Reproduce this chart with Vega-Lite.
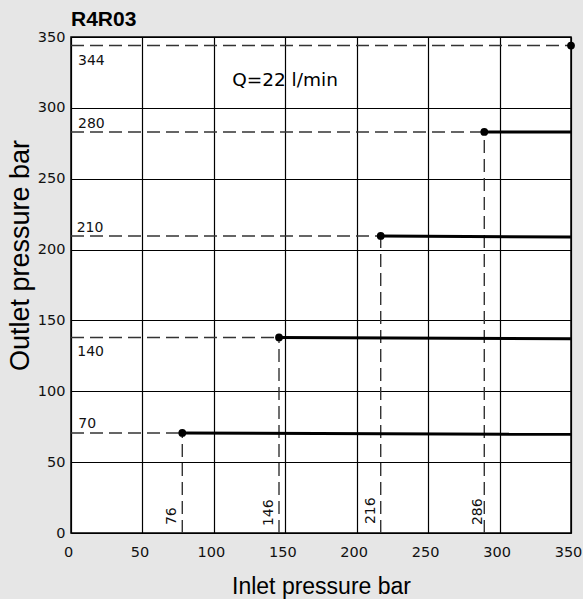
{
  "$schema": "https://vega.github.io/schema/vega-lite/v6.json",
  "width": 500,
  "height": 496,
  "autosize": "none",
  "padding": {"left": 71, "top": 37, "right": 12, "bottom": 66},
  "background": "#e6e6e6",
  "title": {"text": "R4R03", "anchor": "start", "frame": "group", "font": "Liberation Sans", "fontSize": 21, "fontWeight": "bold", "color": "#000", "baseline": "bottom", "offset": 0, "dy": 22},
  "config": {
    "view": {"fill": "white", "stroke": "black", "strokeWidth": 1.5},
    "axis": {"grid": true, "gridColor": "black", "gridWidth": 1.2, "gridOpacity": 1, "ticks": false, "domain": false,
      "labelFont": "DejaVu Sans", "labelFontSize": 14.5, "labelColor": "#111",
      "titleFont": "Liberation Sans", "titleFontWeight": "normal", "titleColor": "#000"}
  },
  "datasets": {
    "steps": [
      {"inlet": 77.9, "outlet": 70.6, "outlet_end": 69.6, "inlet_min": 0, "inlet_max": 350, "outlet_min": 0, "kind": "step"},
      {"inlet": 145.6, "outlet": 138.0, "outlet_end": 137.0, "inlet_min": 0, "inlet_max": 350, "outlet_min": 0, "kind": "step"},
      {"inlet": 216.8, "outlet": 209.6, "outlet_end": 208.8, "inlet_min": 0, "inlet_max": 350, "outlet_min": 0, "kind": "step"},
      {"inlet": 289.3, "outlet": 283.0, "outlet_end": 283.0, "inlet_min": 0, "inlet_max": 350, "outlet_min": 0, "kind": "step"},
      {"inlet": 350, "outlet": 344, "outlet_end": 344, "inlet_min": 0, "inlet_max": 350, "outlet_min": 0, "kind": "max"}
    ],
    "labels": [
      {"x": 4.9, "y": 330.2, "text": "344", "orient": "h"},
      {"x": 4.9, "y": 285.8, "text": "280", "orient": "h"},
      {"x": 4.0, "y": 212.4, "text": "210", "orient": "h"},
      {"x": 4.4, "y": 125.0, "text": "140", "orient": "h"},
      {"x": 5.1, "y": 74.1, "text": "70", "orient": "h"},
      {"x": 73.5, "y": 5.6, "text": "76", "orient": "v"},
      {"x": 141.4, "y": 4.9, "text": "146", "orient": "v"},
      {"x": 212.8, "y": 6.3, "text": "216", "orient": "v"},
      {"x": 287.5, "y": 5.6, "text": "286", "orient": "v"}
    ],
    "note": [{"x": 149.8, "y": 315.4, "text": "Q=22 l/min"}]
  },
  "layer": [
    {
      "data": {"name": "steps"},
      "mark": {"type": "rule", "color": "#333", "strokeWidth": 1.4, "strokeDash": [13, 6]},
      "encoding": {
        "x": {"field": "inlet_min", "type": "quantitative", "scale": {"domain": [0, 350], "nice": false},
          "axis": {"values": [0, 50, 100, 150, 200, 250, 300, 350], "title": "Inlet pressure bar", "labelFlush": false, "labelPadding": 12, "labelOffset": -3,
            "titleFontSize": 23, "titleX": 250, "titleY": 60, "titleAlign": "center", "titleBaseline": "alphabetic"}},
        "x2": {"field": "inlet"},
        "y": {"field": "outlet", "type": "quantitative", "scale": {"domain": [0, 350], "nice": false},
          "axis": {"values": [0, 50, 100, 150, 200, 250, 300, 350], "title": "Outlet pressure bar", "labelPadding": 6,
            "titleFontSize": 27, "titleAngle": -90, "titleX": -43, "titleY": 218, "titleAlign": "center", "titleBaseline": "alphabetic"}}
      }
    },
    {
      "data": {"name": "steps"},
      "transform": [{"filter": "datum.kind === 'step'"}],
      "mark": {"type": "rule", "color": "#333", "strokeWidth": 1.4, "strokeDash": [13, 6]},
      "encoding": {
        "x": {"field": "inlet", "type": "quantitative"},
        "y": {"field": "outlet_min", "type": "quantitative"},
        "y2": {"field": "outlet"}
      }
    },
    {
      "data": {"name": "steps"},
      "transform": [{"filter": "datum.kind === 'step'"}],
      "mark": {"type": "rule", "color": "black", "strokeWidth": 3},
      "encoding": {
        "x": {"field": "inlet", "type": "quantitative"},
        "x2": {"field": "inlet_max"},
        "y": {"field": "outlet", "type": "quantitative"},
        "y2": {"field": "outlet_end"}
      }
    },
    {
      "data": {"name": "steps"},
      "mark": {"type": "circle", "color": "black", "opacity": 1, "size": 60},
      "encoding": {
        "x": {"field": "inlet", "type": "quantitative"},
        "y": {"field": "outlet", "type": "quantitative"}
      }
    },
    {
      "data": {"name": "labels"},
      "transform": [{"filter": "datum.orient === 'h'"}],
      "mark": {"type": "text", "font": "DejaVu Sans", "fontSize": 14, "align": "left", "baseline": "alphabetic", "color": "#111"},
      "encoding": {
        "x": {"field": "x", "type": "quantitative"},
        "y": {"field": "y", "type": "quantitative"},
        "text": {"field": "text", "type": "nominal"}
      }
    },
    {
      "data": {"name": "labels"},
      "transform": [{"filter": "datum.orient === 'v'"}],
      "mark": {"type": "text", "font": "DejaVu Sans", "fontSize": 14, "align": "left", "baseline": "alphabetic", "angle": 270, "color": "#111"},
      "encoding": {
        "x": {"field": "x", "type": "quantitative"},
        "y": {"field": "y", "type": "quantitative"},
        "text": {"field": "text", "type": "nominal"}
      }
    },
    {
      "data": {"name": "note"},
      "mark": {"type": "text", "font": "DejaVu Sans", "fontSize": 18.5, "align": "center", "baseline": "alphabetic", "color": "#000"},
      "encoding": {
        "x": {"field": "x", "type": "quantitative"},
        "y": {"field": "y", "type": "quantitative"},
        "text": {"field": "text", "type": "nominal"}
      }
    }
  ]
}
